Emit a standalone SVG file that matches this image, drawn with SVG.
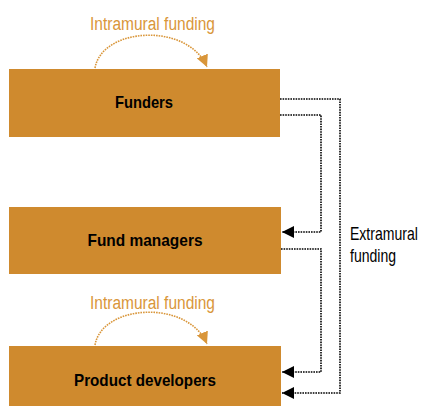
<svg xmlns="http://www.w3.org/2000/svg" width="425" height="406" viewBox="0 0 425 406">
<style>
.box{fill:#CF8A2E}
.lbl{font-family:"Liberation Sans",Arial,sans-serif;font-weight:bold;font-size:17px;fill:#000;text-anchor:middle}
.intra{font-family:"Liberation Sans",Arial,sans-serif;font-size:18px;fill:#D9963A}
.extra{font-family:"Liberation Sans",Arial,sans-serif;font-size:18px;fill:#000}
.dk{fill:none;stroke:#000;stroke-width:1.6;stroke-dasharray:1.6 1}
.or{fill:none;stroke:#D9963A;stroke-width:1.6;stroke-dasharray:1.6 1}
</style>
<defs>
<marker id="ab" markerWidth="12" markerHeight="12" refX="12" refY="6" orient="auto" markerUnits="userSpaceOnUse"><path d="M0,0 L12,6 L0,12 Z" fill="#000"/></marker>
<marker id="ao" markerWidth="12" markerHeight="12" refX="12" refY="6" orient="auto" markerUnits="userSpaceOnUse"><path d="M0,0 L12,6 L0,12 Z" fill="#D9963A"/></marker>
</defs>
<g id="funders"><rect class="box" x="9" y="69" width="271" height="68"/><text class="lbl" x="144" y="108" textLength="58" lengthAdjust="spacingAndGlyphs">Funders</text></g>
<g id="fund-managers"><rect class="box" x="9" y="207" width="272" height="67"/><text class="lbl" x="145" y="246" textLength="115" lengthAdjust="spacingAndGlyphs">Fund managers</text></g>
<g id="product-developers"><rect class="box" x="9" y="346" width="272" height="60"/><text class="lbl" x="145" y="386" textLength="142" lengthAdjust="spacingAndGlyphs">Product developers</text></g>
<g id="labels">
<text class="intra" x="90" y="30" textLength="125" lengthAdjust="spacingAndGlyphs">Intramural funding</text>
<text class="intra" x="90" y="309" textLength="125" lengthAdjust="spacingAndGlyphs">Intramural funding</text>
<g transform="translate(350,0) scale(0.78,1)">
<text class="extra" x="0" y="240">Extramural</text>
<text class="extra" x="0" y="262">funding</text>
</g>
</g>
<g id="connectors">
<path class="or" d="M95,68 C102,27 188,22 207,67" marker-end="url(#ao)"/>
<path class="or" d="M95,345 C102,304 188,299 207,344" marker-end="url(#ao)"/>
<path class="dk" d="M280,99 H340 V393 H282" marker-end="url(#ab)"/>
<path class="dk" d="M280,115 H321 V232 H282" marker-end="url(#ab)"/>
<path class="dk" d="M281,249 H321 V372 H282" marker-end="url(#ab)"/>
</g>
</svg>
